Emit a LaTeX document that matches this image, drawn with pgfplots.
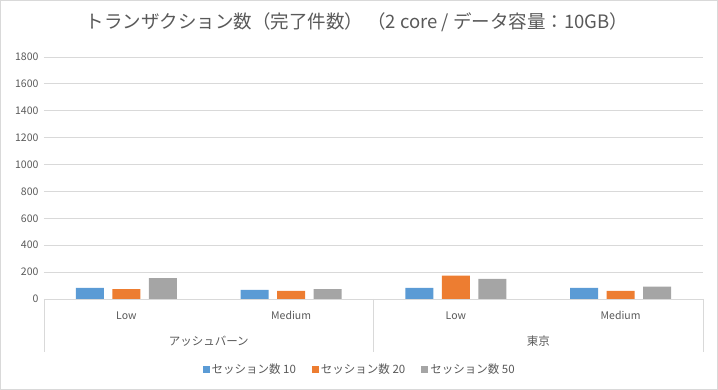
\documentclass[border=0pt]{standalone}
\usepackage{pgfplots}
\pgfplotsset{compat=1.18}
\usepackage{fontspec}
\setmainfont{Noto Sans CJK JP}
\definecolor{cblue}{HTML}{5B9BD5}
\definecolor{corange}{HTML}{ED7D31}
\definecolor{cgray}{HTML}{A5A5A5}
\definecolor{grid}{HTML}{D9D9D9}
\definecolor{txt}{HTML}{595959}
\begin{document}
\begin{tikzpicture}
\begin{axis}[
  scale only axis, width=659pt, height=242pt,
  at={(0,0)}, anchor=south west,
  ybar, bar width=0.17,
  xmin=-0.5, xmax=3.5, ymin=0, ymax=1800,
  ytick={0,200,...,1800},
  xtick={0,1,2,3}, xticklabels={Low,Medium,Low,Medium},
  major tick length=0pt,
  axis y line*=left, axis x line*=bottom,
  y axis line style={draw=none},
  x axis line style={draw=grid, line width=0.8pt},
  xmajorgrids=false, ymajorgrids=true,
  y grid style={grid, line width=0.8pt},
  tick label style={font=\fontsize{10.5}{12}\selectfont, text=txt},
  /pgf/number format/assume math mode=true,
  /pgf/number format/1000 sep={},
  yticklabel style={xshift=-2pt},
  xticklabel style={yshift=-9pt},
  clip=false,
  legend style={at={(0.479,-0.29)}, anchor=center, draw=none, legend columns=3,
    font=\fontsize{11.5}{13}\selectfont, text=txt,
    /tikz/every even column/.append style={column sep=14pt}},
  legend image code/.code={\fill[#1] (0pt,-3.5pt) rectangle (7pt,3.5pt);},
]
\addplot[fill=cblue, draw=none, bar shift=-0.2215] coordinates {(0,82) (1,67) (2,82) (3,82)};
\addplot[fill=corange, draw=none, bar shift=0] coordinates {(0,74) (1,60) (2,173) (3,60)};
\addplot[fill=cgray, draw=none, bar shift=0.2215] coordinates {(0,156) (1,74) (2,149) (3,92)};
\legend{セッション数 10, セッション数 20, セッション数 50}
\draw[grid, line width=0.8pt] (axis cs:-0.5,0) -- ([yshift=-53pt]axis cs:-0.5,0);
\draw[grid, line width=0.8pt] (axis cs:1.5,0) -- ([yshift=-53pt]axis cs:1.5,0);
\draw[grid, line width=0.8pt] (axis cs:3.5,0) -- ([yshift=-53pt]axis cs:3.5,0);
\node[text=txt, font=\fontsize{11.5}{13}\selectfont] at ([yshift=-42pt]axis cs:0.5,0) {アッシュバーン};
\node[text=txt, font=\fontsize{11.5}{13}\selectfont] at ([yshift=-42pt]axis cs:2.5,0) {東京};
\end{axis}
\node[text=txt, font=\fontsize{18.5}{21}\selectfont] at (313pt,277pt) {トランザクション数（完了件数） （2 core / データ容量：10GB）};
\draw[grid, line width=0.8pt] (-43.6pt,-90.6pt) rectangle (673.6pt,298.6pt);
\end{tikzpicture}
\end{document}
